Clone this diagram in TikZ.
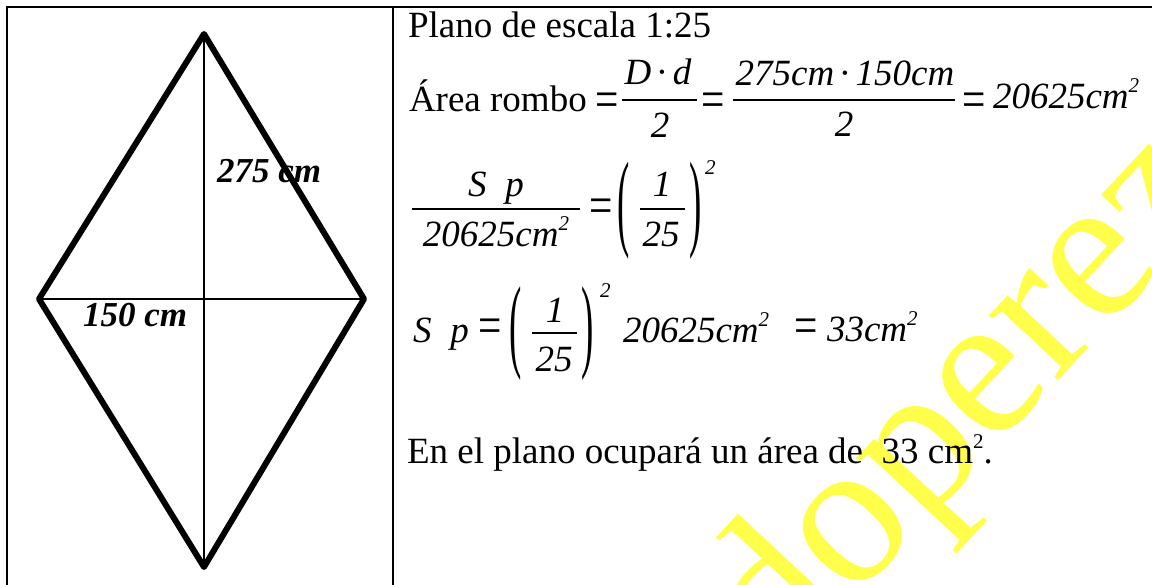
\documentclass[tikz,border=0pt]{standalone}
\usepackage{fontspec}
\setmainfont{Liberation Serif}
\usepackage{graphicx}
\definecolor{wm}{RGB}{255,255,75}
\tikzset{
  txt/.style={anchor=base west, inner sep=0pt, outer sep=0pt, font=\fontsize{37}{44}\selectfont},
  mth/.style={anchor=base, inner sep=0pt, outer sep=0pt, font=\fontsize{37}{44}\selectfont\itshape},
  mthw/.style={anchor=base west, inner sep=0pt, outer sep=0pt, font=\fontsize{37}{44}\selectfont\itshape},
  eqs/.style={anchor=center, inner sep=0pt, outer sep=0pt, font=\fontsize{37}{44}\selectfont},
  sup/.style={anchor=base west, inner sep=0pt, outer sep=0pt, font=\fontsize{21}{21}\selectfont\itshape},
  paren/.style={anchor=center, inner sep=0pt, outer sep=0pt, font=\fontsize{37}{44}\selectfont},
  lbl/.style={anchor=base west, inner sep=0pt, outer sep=0pt, font=\fontsize{35}{42}\selectfont\bfseries\itshape},
  framel/.style={line width=2.5pt},
  rhomb/.style={line width=6pt, line join=round},
  diag/.style={line width=1.2pt},
  fbar/.style={line width=1.5pt},
}
\newcommand{\msq}{\raisebox{16pt}{\fontsize{21}{21}\selectfont\itshape 2}}
\newcommand{\tsq}{\raisebox{15pt}{\fontsize{21}{21}\selectfont 2}}
\newcommand{\beq}{\scalebox{1.12}[1.45]{=}}
\begin{document}
\begin{tikzpicture}[x=1pt,y=-1pt]
\useasboundingbox (0,0) rectangle (1152,585);
\fill[white] (0,0) rectangle (1152,585);
\clip (0,0) rectangle (1152,585);
% watermark
\node[rotate=47, anchor=base west, inner sep=0pt, text=wm, font=\fontsize{206}{206}\selectfont] (wmk) at (782,677) {doperez};
% table frame
\coordinate (TL) at (7,7);
\coordinate (TR) at (1152,7);
\coordinate (BL) at (7,585);
\coordinate (MT) at (393,7);
\coordinate (MB) at (393,585);
\draw[framel] (BL) -- (TL) -- (TR);
\draw[framel] (MT) -- (MB);
% rhombus
\coordinate (T) at (204,34);
\coordinate (R) at (364,299);
\coordinate (B) at (204,567);
\coordinate (L) at (39,299);
\draw[diag] (T) -- (B);
\draw[diag] (L) -- (R);
\draw[rhomb] (T) -- (R) -- (B) -- (L) -- cycle;
\node[lbl] (lD) at (217,183) {275 cm};
\node[lbl] (ld) at (83,327) {150 cm};
% line 1
\node[txt] (l1) at (408,38) {Plano de escala 1:25};
% line 2
\node[txt] (l2a) at (409,112) {Área rombo};
\node[eqs] (l2eq1) at (607,105) {\beq};
\node[mth] (f1n) at (658,85) {D\hspace{4.5pt}\textup{·}\hspace{4.5pt}d};
\coordinate (f1a) at (622,100);
\coordinate (f1b) at (697,100);
\draw[fbar] (f1a) -- (f1b);
\node[mth] (f1d) at (660,138) {2};
\node[eqs] (l2eq2) at (713,105) {\beq};
\node[mth] (f2n) at (845,86) {275cm\hspace{4.5pt}\textup{·}\hspace{4.5pt}150cm};
\coordinate (f2a) at (733,100);
\coordinate (f2b) at (955,100);
\draw[fbar] (f2a) -- (f2b);
\node[mth] (f2d) at (844,137) {2};
\node[eqs] (l2eq3) at (974,105) {\beq};
\node[mthw] (l2r) at (993,109) {20625cm\msq};
% line 3
\node[mth] (f3n) at (496,197) {S\hspace{19pt}p};
\coordinate (f3a) at (412,209);
\coordinate (f3b) at (580,209);
\draw[fbar] (f3a) -- (f3b);
\node[mth] (f3d) at (496,247) {20625cm\msq};
\node[eqs] (l3eq) at (601,211) {\beq};
\node[paren] (l3pl) at (624,211) {\scalebox{1}[2.9]{(}};
\node[mth] (f4n) at (662,197) {1};
\coordinate (f4a) at (640,209);
\coordinate (f4b) at (685,209);
\draw[fbar] (f4a) -- (f4b);
\node[mth] (f4d) at (661,247) {25};
\node[paren] (l3pr) at (696,211) {\scalebox{1}[2.9]{)}};
\node[sup] (l3s) at (705,175) {2};
% line 4
\node[mthw] (l4a) at (413,343) {S\hspace{19pt}p};
\node[eqs] (l4eq1) at (490,331) {\beq};
\node[paren] (l4pl) at (516,334) {\scalebox{1}[2.8]{(}};
\node[mth] (f5n) at (555,323) {1};
\coordinate (f5a) at (532,333);
\coordinate (f5b) at (577,333);
\draw[fbar] (f5a) -- (f5b);
\node[mth] (f5d) at (554,372) {25};
\node[paren] (l4pr) at (588,334) {\scalebox{1}[2.8]{)}};
\node[sup] (l4s) at (600,298) {2};
\node[mthw] (l4b) at (623,343) {20625cm\msq};
\node[eqs] (l4eq2) at (806,331) {\beq};
\node[mthw] (l4c) at (827,342) {33cm\msq};
% line 5
\node[txt] (l5) at (407,463) {En el plano ocupará un área de\ \ 33 cm\tsq.};
\end{tikzpicture}
\end{document}
